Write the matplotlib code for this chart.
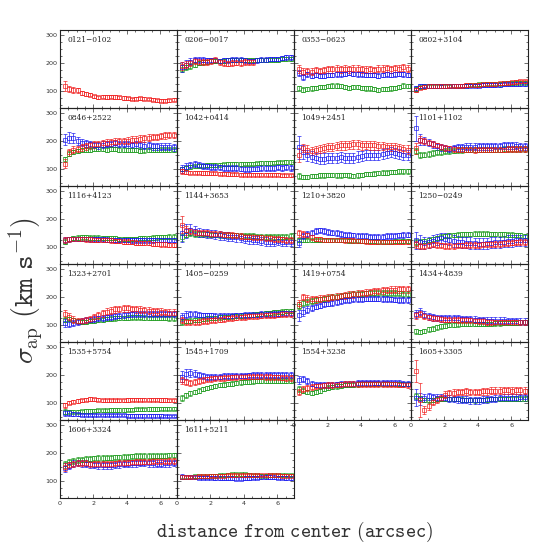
import numpy as np
import matplotlib
matplotlib.use('Agg')
import matplotlib.pyplot as plt
from matplotlib.ticker import MultipleLocator

plt.rcParams['mathtext.fontset'] = 'cm'

# радиусы апертур (arcsec), общие для всех галактик
R = [0.3, 0.55, 0.8, 1.05, 1.3, 1.55, 1.8, 2.05, 2.3, 2.55, 2.8, 3.05, 3.3, 3.55,
     3.8, 4.05, 4.3, 4.55, 4.8, 5.05, 5.3, 5.55, 5.8, 6.05, 6.3, 6.55, 6.8]

NAMES = ['0121\u22120102', '0206\u22120017', '0353\u22120623', '0802+3104',
         '0846+2522', '1042+0414', '1049+2451', '1101+1102',
         '1116+4123', '1144+3653', '1210+3820', '1250\u22120249',
         '1323+2701', '1405\u22120259', '1419+0754', '1434+4839',
         '1535+5754', '1545+1709', '1554+3238', '1605+3305',
         '1606+3324', '1611+5211']

# --- 0121-0102 ---
red_0121 = [120, 108, 105, 104, 93, 90, 88, 82, 78, 80, 79, 80, 79, 78, 76, 74, 72, 73, 74, 73, 72, 70, 68, 66, 66, 68, 70]
ered_0121 = [18, 10, 10, 9, 8, 8, 7, 6, 6, 6, 6, 6, 6, 6, 6, 5, 5, 5, 5, 5, 5, 5, 5, 5, 5, 5, 5]

# --- 0206-0017 ---
blue_0206 = [185, 195, 205, 210, 212, 212, 210, 210, 210, 208, 210, 210, 212, 212, 212, 210, 208, 208, 210, 212, 212, 215, 215, 215, 218, 220, 220]
eblue_0206 = [18, 15, 12, 10, 10, 8, 8, 8, 8, 8, 8, 8, 8, 8, 8, 8, 8, 8, 8, 8, 8, 8, 8, 8, 8, 8, 8]
red_0206 = [190, 195, 200, 208, 205, 205, 205, 208, 210, 205, 200, 198, 200, 202, 200, 205, 205, 205]
ered_0206 = [15, 12, 12, 10, 10, 10, 10, 10, 10, 10, 10, 10, 10, 10, 10, 10, 10, 10]
green_0206 = [180, 185, 190, 195, 200, 203, 205, 207, 208, 208, 208, 210, 210, 210, 210, 210, 210, 210, 210, 210, 210, 212, 212, 212, 213, 215, 215]
egreen_0206 = [12, 10, 10, 8, 8, 8, 7, 7, 7, 7, 7, 7, 7, 7, 7, 7, 7, 7, 7, 7, 7, 7, 7, 7, 7, 7, 7]

# --- 0353-0623 ---
red_0353 = [178, 170, 172, 170, 175, 172, 175, 178, 178, 180, 178, 180, 178, 180, 180, 178, 176, 178, 175, 180, 180, 182, 178, 182, 180, 185, 180]
ered_0353 = [14, 12, 12, 12, 12, 12, 12, 12, 12, 12, 12, 12, 12, 12, 12, 12, 12, 12, 12, 12, 12, 12, 12, 12, 12, 12, 12]
blue_0353 = [165, 150, 160, 155, 158, 155, 155, 158, 158, 160, 160, 162, 165, 162, 160, 160, 158, 158, 158, 155, 158, 160, 158, 160, 162, 160, 158]
eblue_0353 = [12, 10, 8, 8, 8, 8, 8, 8, 8, 8, 8, 8, 8, 8, 8, 8, 8, 8, 8, 8, 8, 8, 8, 8, 8, 8, 8]
green_0353 = [110, 105, 108, 110, 112, 115, 115, 118, 120, 120, 118, 115, 112, 115, 115, 112, 110, 110, 108, 105, 108, 108, 110, 112, 115, 120, 118]
egreen_0353 = [10, 9, 8, 8, 8, 8, 8, 8, 8, 8, 8, 8, 8, 8, 8, 8, 8, 8, 8, 8, 8, 8, 8, 8, 8, 8, 8]

# --- 0802+3104 ---
red_0802 = [105, 112, 115, 118, 118, 118, 118, 118, 120, 120, 120, 120, 122, 122, 122, 122, 124, 125, 125, 126, 128, 128, 130, 132, 134, 135, 135]
ered_0802 = [8, 6, 6, 6, 6, 6, 6, 6, 6, 6, 6, 6, 6, 6, 6, 6, 6, 6, 6, 6, 6, 6, 6, 6, 6, 6, 6]
blue_0802 = [110, 118, 120, 118, 118, 118, 117, 118, 118, 118, 118, 120, 120, 120, 120, 120, 122, 122, 122, 122, 122, 124, 124, 124, 125, 126, 126]
eblue_0802 = [10, 8, 6, 6, 6, 6, 6, 6, 6, 6, 6, 6, 6, 6, 6, 6, 6, 6, 6, 6, 6, 6, 6, 6, 6, 6, 6]
green_0802 = [108, 115, 117, 118, 118, 118, 118, 118, 118, 119, 120, 120, 120, 122, 122, 124, 125, 126, 126, 126, 127, 128, 128, 128, 130, 130, 130]
egreen_0802 = [6, 5, 5, 5, 5, 5, 5, 5, 5, 5, 5, 5, 5, 5, 5, 5, 5, 5, 5, 5, 5, 5, 5, 5, 5, 5, 5]

# --- 0846+2522 ---
red_0846 = [120, 160, 170, 172, 178, 182, 185, 188, 190, 192, 195, 196, 198, 200, 200, 202, 205, 205, 208, 210, 212, 215, 215, 218, 220, 222, 222]
ered_0846 = [15, 12, 12, 12, 12, 12, 12, 12, 12, 12, 12, 12, 12, 12, 12, 12, 12, 12, 12, 12, 12, 12, 12, 12, 12, 12, 12]
blue_0846 = [205, 212, 210, 200, 195, 192, 188, 186, 185, 187, 190, 190, 192, 190, 190, 188, 186, 188, 185, 184, 185, 182, 182, 180, 180, 180, 178]
eblue_0846 = [20, 20, 18, 15, 12, 12, 12, 12, 12, 12, 12, 12, 12, 12, 12, 12, 12, 12, 12, 12, 12, 12, 12, 12, 12, 12, 12]
green_0846 = [135, 155, 162, 165, 168, 170, 170, 172, 172, 172, 170, 172, 172, 170, 170, 168, 168, 168, 166, 167, 168, 168, 168, 170, 170, 170, 170]
egreen_0846 = [10, 8, 8, 8, 8, 8, 8, 8, 8, 8, 8, 8, 8, 8, 8, 8, 8, 8, 8, 8, 8, 8, 8, 8, 8, 8, 8]

# --- 1042+0414 ---
blue_1042 = [100, 108, 115, 118, 115, 112, 110, 108, 108, 106, 105, 105, 104, 104, 102, 100, 100, 102, 102, 104, 105, 104, 105, 106, 105, 106, 105]
eblue_1042 = [15, 15, 12, 12, 10, 10, 10, 10, 10, 10, 10, 10, 10, 10, 10, 10, 10, 10, 10, 10, 10, 10, 10, 10, 10, 10, 10]
green_1042 = [100, 105, 108, 110, 112, 113, 115, 115, 115, 116, 117, 118, 118, 118, 119, 120, 120, 120, 121, 122, 122, 122, 123, 124, 124, 125, 125]
egreen_1042 = [8, 6, 6, 6, 6, 6, 6, 6, 6, 6, 6, 6, 6, 6, 6, 6, 6, 6, 6, 6, 6, 6, 6, 6, 6, 6, 6]
red_1042 = [92, 90, 88, 88, 87, 86, 86, 85, 85, 84, 84, 83, 82, 82, 80, 80, 80, 80, 80, 80, 80, 80, 80, 80, 78, 78, 78]
ered_1042 = [8, 6, 6, 6, 6, 6, 6, 6, 6, 6, 6, 6, 6, 6, 6, 6, 6, 6, 6, 6, 6, 6, 6, 6, 6, 6, 6]

# --- 1049+2451 ---
red_1049 = [150, 175, 170, 165, 168, 172, 175, 178, 180, 182, 185, 185, 186, 188, 188, 185, 186, 185, 185, 182, 182, 180, 178, 178, 175, 172, 170]
ered_1049 = [25, 15, 15, 15, 15, 15, 15, 15, 15, 15, 15, 15, 15, 15, 15, 15, 15, 15, 15, 15, 15, 15, 15, 15, 15, 15, 15]
blue_1049 = [178, 160, 150, 145, 140, 138, 138, 140, 140, 140, 142, 140, 140, 140, 145, 148, 150, 152, 150, 152, 155, 158, 160, 158, 155, 152, 150]
eblue_1049 = [40, 25, 20, 20, 18, 18, 18, 18, 18, 18, 18, 18, 18, 18, 18, 18, 18, 18, 18, 18, 18, 18, 18, 18, 18, 18, 18]
green_1049 = [75, 72, 72, 75, 76, 78, 78, 80, 80, 78, 78, 80, 78, 76, 78, 80, 82, 82, 84, 86, 88, 88, 90, 90, 92, 92, 92]
egreen_1049 = [10, 8, 8, 8, 8, 8, 8, 8, 8, 8, 8, 8, 8, 8, 8, 8, 8, 8, 8, 8, 8, 8, 8, 8, 8, 8, 8]

# --- 1101+1102 ---
blue_1101 = [245, 205, 200, 195, 188, 182, 178, 175, 172, 175, 178, 178, 180, 180, 180, 182, 182, 182, 182, 183, 183, 185, 185, 185, 184, 182, 182]
eblue_1101 = [45, 20, 15, 12, 12, 12, 12, 12, 12, 12, 12, 12, 12, 12, 12, 12, 12, 12, 12, 12, 12, 12, 12, 12, 12, 12, 12]
red_1101 = [175, 205, 200, 195, 190, 185, 180, 176, 174, 172, 170, 170, 170, 170, 168, 170, 170, 170, 170, 170, 170, 170, 172, 172, 172, 172, 172]
ered_1101 = [20, 12, 12, 10, 10, 10, 10, 10, 10, 10, 10, 10, 10, 10, 10, 10, 10, 10, 10, 10, 10, 10, 10, 10, 10, 10, 10]
green_1101 = [165, 150, 152, 155, 158, 160, 162, 165, 165, 166, 168, 168, 170, 170, 170, 170, 170, 170, 170, 170, 170, 172, 172, 172, 172, 172, 172]
egreen_1101 = [12, 10, 10, 10, 10, 10, 10, 10, 10, 10, 10, 10, 10, 10, 10, 10, 10, 10, 10, 10, 10, 10, 10, 10, 10, 10, 10]

# --- 1116+4123 ---
green_1116 = [120, 130, 132, 134, 135, 135, 134, 134, 134, 133, 132, 132, 132, 130, 130, 130, 130, 130, 132, 132, 133, 134, 135, 136, 137, 138, 138]
egreen_1116 = [10, 8, 8, 8, 8, 8, 8, 8, 8, 8, 8, 8, 8, 8, 8, 8, 8, 8, 8, 8, 8, 8, 8, 8, 8, 8, 8]
blue_1116 = [125, 128, 130, 130, 130, 130, 128, 128, 128, 128, 127, 126, 126, 125, 125, 125, 124, 124, 124, 124, 124, 124, 125, 125, 125, 126, 126]
eblue_1116 = [10, 8, 8, 8, 8, 8, 8, 8, 8, 8, 8, 8, 8, 8, 8, 8, 8, 8, 8, 8, 8, 8, 8, 8, 8, 8, 8]
red_1116 = [125, 128, 130, 130, 130, 128, 128, 127, 126, 125, 125, 124, 122, 122, 120, 120, 118, 116, 115, 115, 114, 112, 112, 110, 110, 108, 108]
ered_1116 = [10, 8, 8, 8, 8, 8, 8, 8, 8, 8, 8, 8, 8, 8, 8, 8, 8, 8, 8, 8, 8, 8, 8, 8, 8, 8, 8]

# --- 1144+3653 ---
green_1144 = [135, 145, 150, 148, 148, 146, 146, 145, 145, 144, 144, 143, 142, 142, 141, 140, 140, 140, 138, 138, 137, 136, 136, 136, 138, 138, 140]
egreen_1144 = [12, 10, 10, 10, 10, 10, 10, 10, 10, 10, 10, 10, 10, 10, 10, 10, 10, 10, 10, 10, 10, 10, 10, 10, 10, 10, 10]
blue_1144 = [150, 158, 162, 158, 152, 150, 148, 146, 145, 142, 140, 138, 136, 135, 132, 130, 128, 126, 125, 122, 120, 118, 120, 122, 120, 118, 118]
eblue_1144 = [30, 25, 20, 18, 15, 15, 15, 15, 15, 15, 15, 15, 15, 15, 15, 15, 15, 15, 15, 15, 15, 15, 15, 15, 15, 15, 15]
red_1144 = [180, 160, 158, 155, 152, 150, 150, 148, 148, 146, 145, 145, 144, 142, 140, 138, 138, 136, 135, 135, 132, 132, 130, 130, 128, 126, 125]
ered_1144 = [30, 15, 12, 10, 10, 10, 10, 10, 10, 10, 10, 10, 10, 10, 10, 10, 10, 10, 10, 10, 10, 10, 10, 10, 10, 10, 10]

# --- 1210+3820 ---
green_1210 = [125, 125, 124, 124, 124, 124, 124, 124, 124, 124, 124, 124, 123, 123, 123, 122, 122, 122, 121, 120, 120, 120, 120, 121, 121, 122, 122]
egreen_1210 = [8, 6, 6, 6, 6, 6, 6, 6, 6, 6, 6, 6, 6, 6, 6, 6, 6, 6, 6, 6, 6, 6, 6, 6, 6, 6, 6]
blue_1210 = [115, 140, 148, 152, 158, 160, 158, 155, 152, 150, 148, 145, 143, 142, 140, 140, 140, 138, 138, 138, 138, 139, 140, 140, 142, 144, 145]
eblue_1210 = [15, 12, 10, 10, 10, 10, 10, 10, 10, 10, 10, 10, 10, 10, 10, 10, 10, 10, 10, 10, 10, 10, 10, 10, 10, 10, 10]
red_1210 = [150, 148, 142, 135, 130, 128, 126, 125, 125, 125, 125, 124, 124, 123, 122, 122, 121, 120, 120, 120, 119, 118, 118, 118, 118, 119, 120]
ered_1210 = [12, 10, 8, 8, 8, 8, 8, 8, 8, 8, 8, 8, 8, 8, 8, 8, 8, 8, 8, 8, 8, 8, 8, 8, 8, 8, 8]

# --- 1250-0249 ---
green_1250 = [118, 120, 122, 125, 128, 132, 138, 140, 142, 143, 145, 146, 146, 147, 148, 148, 148, 148, 147, 147, 146, 146, 145, 145, 144, 142, 140]
egreen_1250 = [10, 8, 8, 8, 8, 8, 8, 8, 8, 8, 8, 8, 8, 8, 8, 8, 8, 8, 8, 8, 8, 8, 8, 8, 8, 8, 8]
blue_1250 = [125, 120, 115, 118, 122, 128, 132, 130, 126, 122, 120, 118, 116, 115, 114, 112, 112, 114, 116, 118, 118, 120, 122, 122, 124, 124, 125]
eblue_1250 = [30, 25, 20, 20, 20, 20, 20, 20, 20, 20, 20, 20, 20, 20, 20, 20, 20, 20, 20, 20, 20, 20, 20, 20, 20, 20, 20]
red_1250 = [110, 105, 104, 106, 110, 108, 106, 105, 105, 105, 106, 106, 108, 108, 108, 108, 110, 110, 111, 112, 112, 114, 115, 116, 117, 118, 118]
ered_1250 = [12, 10, 10, 10, 10, 10, 10, 10, 10, 10, 10, 10, 10, 10, 10, 10, 10, 10, 10, 10, 10, 10, 10, 10, 10, 10, 10]

# --- 1323+2701 ---
green_1323 = [120, 122, 118, 115, 112, 112, 114, 116, 118, 120, 122, 123, 124, 125, 126, 127, 128, 128, 128, 127, 126, 126, 125, 125, 125, 124, 124]
egreen_1323 = [10, 8, 8, 8, 8, 8, 8, 8, 8, 8, 8, 8, 8, 8, 8, 8, 8, 8, 8, 8, 8, 8, 8, 8, 8, 8, 8]
blue_1323 = [108, 105, 108, 112, 115, 118, 120, 122, 124, 126, 128, 130, 132, 134, 136, 138, 140, 140, 140, 140, 140, 140, 140, 140, 140, 140, 140]
eblue_1323 = [14, 12, 10, 10, 10, 10, 10, 10, 10, 10, 10, 10, 10, 10, 10, 10, 10, 10, 10, 10, 10, 10, 10, 10, 10, 10, 10]
red_1323 = [140, 130, 120, 115, 115, 118, 122, 128, 135, 142, 148, 152, 156, 158, 160, 160, 158, 156, 155, 154, 152, 150, 150, 148, 147, 145, 145]
ered_1323 = [15, 12, 12, 12, 12, 12, 12, 12, 12, 12, 12, 12, 12, 12, 12, 12, 12, 12, 12, 12, 12, 12, 12, 12, 12, 12, 12]

# --- 1405-0259 ---
green_1405 = [112, 114, 116, 118, 120, 122, 124, 125, 126, 128, 129, 130, 131, 132, 134, 135, 136, 138, 139, 140, 142, 144, 146, 147, 148, 150, 150]
egreen_1405 = [10, 8, 8, 8, 8, 8, 8, 8, 8, 8, 8, 8, 8, 8, 8, 8, 8, 8, 8, 8, 8, 8, 8, 8, 8, 8, 8]
blue_1405 = [130, 138, 140, 140, 138, 135, 135, 135, 134, 134, 134, 134, 134, 135, 135, 136, 137, 138, 138, 139, 140, 140, 140, 141, 142, 142, 142]
eblue_1405 = [15, 12, 10, 10, 10, 10, 10, 10, 10, 10, 10, 10, 10, 10, 10, 10, 10, 10, 10, 10, 10, 10, 10, 10, 10, 10, 10]
red_1405 = [118, 112, 110, 110, 112, 114, 115, 117, 118, 120, 122, 124, 126, 127, 128, 130, 131, 132, 133, 134, 135, 136, 137, 138, 139, 140, 140]
ered_1405 = [12, 10, 10, 10, 10, 10, 10, 10, 10, 10, 10, 10, 10, 10, 10, 10, 10, 10, 10, 10, 10, 10, 10, 10, 10, 10, 10]

# --- 1419+0754 ---
green_1419 = [170, 178, 182, 186, 190, 192, 195, 198, 200, 202, 204, 206, 208, 210, 211, 212, 213, 214, 215, 215, 215, 215, 215, 214, 213, 212, 212]
egreen_1419 = [12, 10, 10, 10, 10, 10, 10, 10, 10, 10, 10, 10, 10, 10, 10, 10, 10, 10, 10, 10, 10, 10, 10, 10, 10, 10, 10]
blue_1419 = [135, 148, 155, 162, 166, 170, 174, 177, 180, 183, 186, 188, 190, 192, 193, 194, 195, 195, 195, 195, 194, 193, 192, 191, 190, 190, 189]
eblue_1419 = [20, 15, 12, 10, 10, 10, 10, 10, 10, 10, 10, 10, 10, 10, 10, 10, 10, 10, 10, 10, 10, 10, 10, 10, 10, 10, 10]
red_1419 = [175, 200, 195, 192, 192, 194, 196, 198, 200, 202, 204, 206, 208, 210, 212, 214, 216, 218, 220, 222, 224, 225, 226, 227, 228, 228, 228]
ered_1419 = [15, 12, 12, 12, 12, 12, 12, 12, 12, 12, 12, 12, 12, 12, 12, 12, 12, 12, 12, 12, 12, 12, 12, 12, 12, 12, 12]

# --- 1434+4839 ---
green_1434 = [78, 76, 80, 85, 88, 92, 96, 98, 100, 102, 103, 104, 104, 105, 105, 105, 105, 105, 105, 106, 106, 107, 107, 108, 108, 110, 110]
egreen_1434 = [10, 8, 8, 8, 8, 8, 8, 8, 8, 8, 8, 8, 8, 8, 8, 8, 8, 8, 8, 8, 8, 8, 8, 8, 8, 8, 8]
blue_1434 = [140, 148, 138, 132, 128, 126, 125, 125, 124, 124, 124, 122, 122, 122, 120, 118, 118, 116, 116, 116, 116, 116, 115, 114, 114, 112, 112]
eblue_1434 = [14, 12, 12, 12, 12, 12, 12, 12, 12, 12, 12, 12, 12, 12, 12, 12, 12, 12, 12, 12, 12, 12, 12, 12, 12, 12, 12]
red_1434 = [135, 140, 132, 128, 125, 124, 122, 120, 120, 120, 119, 118, 118, 117, 116, 115, 114, 112, 112, 110, 110, 110, 110, 110, 110, 110, 110]
ered_1434 = [12, 10, 10, 10, 10, 10, 10, 10, 10, 10, 10, 10, 10, 10, 10, 10, 10, 10, 10, 10, 10, 10, 10, 10, 10, 10, 10]

# --- 1535+5754 ---
green_1535 = [70, 70, 70, 70, 71, 72, 72, 73, 74, 74, 74, 75, 75, 76, 76, 77, 77, 78, 78, 78, 79, 79, 79, 80, 80, 80, 80]
egreen_1535 = [8, 6, 6, 6, 6, 6, 6, 6, 6, 6, 6, 6, 6, 6, 6, 6, 6, 6, 6, 6, 6, 6, 6, 6, 6, 6, 6]
blue_1535 = [65, 64, 62, 60, 59, 58, 58, 58, 58, 57, 57, 57, 57, 57, 57, 56, 56, 56, 56, 56, 56, 56, 56, 56, 55, 55, 55]
eblue_1535 = [12, 10, 6, 5, 4, 4, 4, 4, 4, 4, 4, 4, 4, 4, 4, 4, 4, 4, 4, 4, 4, 4, 4, 4, 4, 4, 4]
red_1535 = [92, 102, 105, 108, 110, 112, 115, 114, 112, 110, 110, 110, 110, 110, 110, 111, 112, 112, 113, 113, 113, 112, 112, 111, 111, 110, 110]
ered_1535 = [8, 6, 6, 6, 6, 6, 6, 6, 6, 6, 6, 6, 6, 6, 6, 6, 6, 6, 6, 6, 6, 6, 6, 6, 6, 6, 6]

# --- 1545+1709 ---
green_1545 = [118, 128, 135, 140, 145, 150, 154, 158, 161, 164, 166, 168, 170, 172, 174, 176, 177, 178, 179, 180, 180, 180, 180, 180, 180, 180, 180]
egreen_1545 = [10, 8, 8, 8, 8, 8, 8, 8, 8, 8, 8, 8, 8, 8, 8, 8, 8, 8, 8, 8, 8, 8, 8, 8, 8, 8, 8]
blue_1545 = [195, 205, 208, 205, 200, 196, 194, 194, 194, 195, 196, 196, 196, 197, 198, 198, 199, 200, 200, 200, 200, 201, 201, 200, 200, 200, 200]
eblue_1545 = [20, 18, 15, 12, 10, 10, 10, 10, 10, 10, 10, 10, 10, 10, 10, 10, 10, 10, 10, 10, 10, 10, 10, 10, 10, 10, 10]
red_1545 = [182, 176, 172, 175, 180, 183, 185, 186, 188, 189, 190, 191, 192, 193, 194, 195, 195, 195, 195, 195, 194, 193, 192, 192, 191, 190, 190]
ered_1545 = [12, 10, 10, 10, 10, 10, 10, 10, 10, 10, 10, 10, 10, 10, 10, 10, 10, 10, 10, 10, 10, 10, 10, 10, 10, 10, 10]

# --- 1554+3238 ---
green_1554 = [150, 145, 140, 137, 140, 145, 150, 155, 158, 160, 162, 164, 165, 166, 167, 168, 168, 168, 168, 168, 168, 168, 168, 168, 168, 168, 168]
egreen_1554 = [10, 8, 8, 8, 8, 8, 8, 8, 8, 8, 8, 8, 8, 8, 8, 8, 8, 8, 8, 8, 8, 8, 8, 8, 8, 8, 8]
blue_1554 = [182, 186, 178, 170, 166, 165, 165, 165, 166, 167, 168, 168, 169, 170, 171, 172, 172, 172, 173, 173, 172, 172, 172, 171, 171, 170, 170]
eblue_1554 = [15, 12, 10, 10, 10, 10, 10, 10, 10, 10, 10, 10, 10, 10, 10, 10, 10, 10, 10, 10, 10, 10, 10, 10, 10, 10, 10]
red_1554 = [140, 150, 155, 158, 160, 162, 163, 164, 165, 166, 167, 168, 168, 168, 168, 168, 168, 168, 168, 168, 168, 168, 167, 167, 166, 166, 165]
ered_1554 = [12, 10, 10, 10, 10, 10, 10, 10, 10, 10, 10, 10, 10, 10, 10, 10, 10, 10, 10, 10, 10, 10, 10, 10, 10, 10, 10]

# --- 1605+3305 ---
green_1605 = [125, 118, 112, 110, 112, 114, 115, 115, 115, 115, 114, 113, 112, 111, 110, 111, 112, 113, 114, 115, 115, 115, 115, 116, 116, 116, 116]
egreen_1605 = [10, 8, 8, 8, 8, 8, 8, 8, 8, 8, 8, 8, 8, 8, 8, 8, 8, 8, 8, 8, 8, 8, 8, 8, 8, 8, 8]
blue_1605 = [120, 115, 118, 125, 122, 120, 120, 118, 116, 115, 114, 113, 112, 110, 110, 110, 112, 114, 115, 116, 118, 119, 120, 120, 120, 121, 121]
eblue_1605 = [30, 20, 15, 12, 12, 12, 12, 12, 12, 12, 12, 12, 12, 12, 12, 12, 12, 12, 12, 12, 12, 12, 12, 12, 12, 12, 12]
red_1605 = [214, 111, 75, 90, 105, 112, 118, 130, 135, 138, 140, 140, 142, 140, 140, 140, 142, 142, 144, 145, 145, 146, 146, 145, 146, 146, 145]
ered_1605 = [40, 60, 15, 15, 12, 12, 12, 12, 12, 12, 12, 12, 12, 12, 12, 12, 12, 12, 12, 12, 12, 12, 12, 12, 12, 12, 12]

# --- 1606+3324 ---
green_1606 = [160, 168, 172, 175, 177, 179, 180, 181, 182, 183, 184, 184, 185, 185, 186, 187, 188, 189, 190, 190, 190, 190, 191, 191, 191, 192, 192]
egreen_1606 = [12, 10, 10, 10, 10, 10, 10, 10, 10, 10, 10, 10, 10, 10, 10, 10, 10, 10, 10, 10, 10, 10, 10, 10, 10, 10, 10]
blue_1606 = [148, 155, 162, 165, 164, 162, 160, 158, 157, 156, 156, 157, 158, 160, 161, 162, 163, 164, 165, 165, 164, 163, 162, 162, 163, 164, 165]
eblue_1606 = [15, 12, 12, 12, 12, 12, 12, 12, 12, 12, 12, 12, 12, 12, 12, 12, 12, 12, 12, 12, 12, 12, 12, 12, 12, 12, 12]
red_1606 = [150, 158, 162, 164, 165, 164, 162, 162, 161, 161, 162, 162, 163, 164, 165, 166, 167, 168, 169, 170, 170, 171, 172, 172, 172, 172, 172]
ered_1606 = [15, 12, 10, 10, 10, 10, 10, 10, 10, 10, 10, 10, 10, 10, 10, 10, 10, 10, 10, 10, 10, 10, 10, 10, 10, 10, 10]

# --- 1611+5211 ---
green_1611 = [116, 116, 116, 117, 117, 118, 118, 119, 120, 121, 122, 123, 124, 124, 124, 124, 123, 122, 121, 120, 120, 121, 121, 122, 122, 122, 122]
egreen_1611 = [6, 5, 5, 5, 5, 5, 5, 5, 5, 5, 5, 5, 5, 5, 5, 5, 5, 5, 5, 5, 5, 5, 5, 5, 5, 5, 5]
blue_1611 = [116, 115, 114, 114, 113, 112, 112, 112, 111, 111, 110, 110, 110, 109, 109, 110, 111, 112, 113, 114, 115, 115, 114, 113, 112, 111, 110]
eblue_1611 = [8, 6, 6, 6, 6, 6, 6, 6, 6, 6, 6, 6, 6, 6, 6, 6, 6, 6, 6, 6, 6, 6, 6, 6, 6, 6, 6]
red_1611 = [115, 114, 115, 116, 117, 118, 118, 119, 120, 120, 120, 121, 121, 121, 121, 121, 121, 121, 122, 122, 122, 121, 121, 121, 120, 120, 120]
ered_1611 = [6, 5, 5, 5, 5, 5, 5, 5, 5, 5, 5, 5, 5, 5, 5, 5, 5, 5, 5, 5, 5, 5, 5, 5, 5, 5, 5]

GREEN = '#1a9a1a'
BLUE = '#1414f0'
RED = '#f01818'

# порядок отрисовки: зелёный, синий, красный (красный сверху)
PANELS = [
    [(red_0121, ered_0121, RED)],
    [(green_0206, egreen_0206, GREEN), (blue_0206, eblue_0206, BLUE), (red_0206, ered_0206, RED)],
    [(green_0353, egreen_0353, GREEN), (blue_0353, eblue_0353, BLUE), (red_0353, ered_0353, RED)],
    [(green_0802, egreen_0802, GREEN), (blue_0802, eblue_0802, BLUE), (red_0802, ered_0802, RED)],
    [(green_0846, egreen_0846, GREEN), (blue_0846, eblue_0846, BLUE), (red_0846, ered_0846, RED)],
    [(green_1042, egreen_1042, GREEN), (blue_1042, eblue_1042, BLUE), (red_1042, ered_1042, RED)],
    [(green_1049, egreen_1049, GREEN), (blue_1049, eblue_1049, BLUE), (red_1049, ered_1049, RED)],
    [(green_1101, egreen_1101, GREEN), (blue_1101, eblue_1101, BLUE), (red_1101, ered_1101, RED)],
    [(green_1116, egreen_1116, GREEN), (blue_1116, eblue_1116, BLUE), (red_1116, ered_1116, RED)],
    [(green_1144, egreen_1144, GREEN), (blue_1144, eblue_1144, BLUE), (red_1144, ered_1144, RED)],
    [(green_1210, egreen_1210, GREEN), (blue_1210, eblue_1210, BLUE), (red_1210, ered_1210, RED)],
    [(green_1250, egreen_1250, GREEN), (blue_1250, eblue_1250, BLUE), (red_1250, ered_1250, RED)],
    [(green_1323, egreen_1323, GREEN), (blue_1323, eblue_1323, BLUE), (red_1323, ered_1323, RED)],
    [(green_1405, egreen_1405, GREEN), (blue_1405, eblue_1405, BLUE), (red_1405, ered_1405, RED)],
    [(green_1419, egreen_1419, GREEN), (blue_1419, eblue_1419, BLUE), (red_1419, ered_1419, RED)],
    [(green_1434, egreen_1434, GREEN), (blue_1434, eblue_1434, BLUE), (red_1434, ered_1434, RED)],
    [(green_1535, egreen_1535, GREEN), (blue_1535, eblue_1535, BLUE), (red_1535, ered_1535, RED)],
    [(green_1545, egreen_1545, GREEN), (blue_1545, eblue_1545, BLUE), (red_1545, ered_1545, RED)],
    [(green_1554, egreen_1554, GREEN), (blue_1554, eblue_1554, BLUE), (red_1554, ered_1554, RED)],
    [(green_1605, egreen_1605, GREEN), (blue_1605, eblue_1605, BLUE), (red_1605, ered_1605, RED)],
    [(green_1606, egreen_1606, GREEN), (blue_1606, eblue_1606, BLUE), (red_1606, ered_1606, RED)],
    [(green_1611, egreen_1611, GREEN), (blue_1611, eblue_1611, BLUE), (red_1611, ered_1611, RED)],
]

W, H = 558.0, 558.0
X0, Y0 = 60.0, 30.0      # левый верхний угол сетки, px
PW, PH = 117.0, 78.0     # размер одной панели, px
NCOL = 4

fig = plt.figure(figsize=(5.58, 5.58), dpi=100)

n = len(NAMES)
for k in range(n):
    row, col = divmod(k, NCOL)
    left = (X0 + col * PW) / W
    bottom = 1 - (Y0 + (row + 1) * PH) / H
    ax = fig.add_axes([left, bottom, PW / W, PH / H])
    ax.patch.set_visible(False)   # чтобы соседние панели не закрывали подписи

    for vals, errs, c in PANELS[k]:
        x = R[:len(vals)]
        ax.errorbar(x, vals, yerr=errs, fmt='s', mfc='none', mec=c, ms=3.0, mew=0.55,
                    ecolor=c, elinewidth=0.55, capsize=1.5, capthick=0.55, alpha=0.85)

    ax.set_xlim(0, 7)
    ax.set_ylim(40, 318)
    ax.xaxis.set_major_locator(MultipleLocator(2))
    ax.xaxis.set_minor_locator(MultipleLocator(0.5))
    ax.yaxis.set_major_locator(MultipleLocator(100))
    ax.yaxis.set_minor_locator(MultipleLocator(25))

    # подписи осей только у крайних панелей
    show_y = (col == 0)
    show_x = (k + NCOL >= n)
    ax.tick_params(which='both', direction='in', top=True, right=True,
                   width=0.5, color='#333333', labelsize=4.6, labelcolor='#333333',
                   labelleft=show_y, labelbottom=show_x, pad=2)
    ax.tick_params(which='major', length=3.2)
    ax.tick_params(which='minor', length=1.6)
    for sp in ax.spines.values():
        sp.set_linewidth(0.8)
        sp.set_color('#222222')

    ax.text(0.06, 0.84, NAMES[k], transform=ax.transAxes, fontsize=5.4,
            family='DejaVu Serif', color='#222222')

fig.text(295 / W, 1 - 532 / H, r'$\mathtt{distance\ from\ center\ (arcsec)}$',
         ha='center', va='center', fontsize=14, color='#333333')
fig.text(26 / W, 1 - 291 / H, r'$\sigma_{\rm ap}\ \mathtt{(km\ s^{-1})}$',
         ha='center', va='center', rotation=90, fontsize=20, color='#333333')

fig.savefig('out.png', dpi=100)
